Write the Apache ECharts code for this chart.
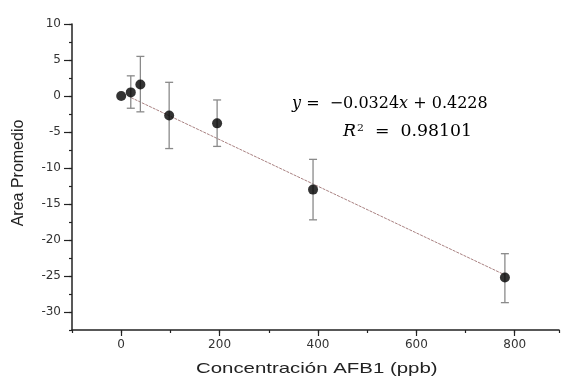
<!DOCTYPE html>
<html><head><meta charset="utf-8">
<script src="https://cdn.jsdelivr.net/npm/echarts@6/dist/echarts.min.js"></script>
<style>html,body{margin:0;padding:0;background:#fff}#c{width:563px;height:378px}</style>
</head><body><div id="c"></div>
<script>
const concentrations = [0, 19.5, 39, 97.5, 195, 390, 780];
const areaMeans = [0, 0.5, 1.6, -2.7, -3.8, -13.0, -25.2];
const errUpper = [0, 2.8, 5.5, 1.9, -0.55, -8.8, -21.9];
const errLower = [0, -1.7, -2.2, -7.3, -7.0, -17.2, -28.7];
const fitSlope = -0.0324, fitIntercept = 0.4228;
const fitX = [20, 780];
const fitY = fitX.map(x => fitSlope * x + fitIntercept);
const xMajorTicks = [0, 200, 400, 600, 800];
const yMajorTicks = [-30, -25, -20, -15, -10, -5, 0, 5, 10];
const xTitle = 'Concentración AFB1 (ppb)';
const yTitle = 'Area Promedio';

const chart = echarts.init(document.getElementById('c'));
const pts = concentrations.map((x, i) => [x, areaMeans[i]]);
const errs = concentrations.map((x, i) => [x, errLower[i], errUpper[i]]).filter(d => d[1] !== d[2]);
const axisCol = '#222';
const lblStyle = {fontFamily: 'DejaVu Sans', fontSize: 12, color: '#333'};
chart.setOption({
  animation: false,
  grid: {left: 72, right: 4, top: 24, bottom: 48},
  xAxis: [{
    type: 'value', min: -100, max: 890, interval: 100, position: 'bottom',
    axisLine: {onZero: false, lineStyle: {color: axisCol, width: 1.5}},
    axisTick: {length: 3, lineStyle: {color: axisCol, width: 1.2}},
    axisLabel: Object.assign({margin: 9, formatter: v => xMajorTicks.includes(v) ? String(v) : ''}, lblStyle),
    splitLine: {show: false}
  }, {
    type: 'value', min: -100, max: 890, position: 'bottom', offset: 0,
    axisLine: {show: false, onZero: false},
    axisTick: {length: 6, customValues: xMajorTicks, lineStyle: {color: axisCol, width: 1.2}},
    axisLabel: {show: false},
    splitLine: {show: false}
  }],
  yAxis: [{
    type: 'value', min: -32.5, max: 10, interval: 2.5, position: 'left',
    axisLine: {onZero: false, lineStyle: {color: axisCol, width: 1.5}},
    axisTick: {length: 3, lineStyle: {color: axisCol, width: 1.2}},
    axisLabel: Object.assign({margin: 11, formatter: v => yMajorTicks.includes(v) ? String(v) : ''}, lblStyle),
    splitLine: {show: false}
  }, {
    type: 'value', min: -32.5, max: 10, position: 'left', offset: 0,
    axisLine: {show: false, onZero: false},
    axisTick: {length: 8, customValues: yMajorTicks, lineStyle: {color: axisCol, width: 1.2}},
    axisLabel: {show: false},
    splitLine: {show: false}
  }],
  series: [
    {
      type: 'line', data: fitX.map((x, i) => [x, fitY[i]]), symbol: 'none',
      lineStyle: {color: '#a88080', width: 1, type: [3, 1]}, z: 1
    },
    {
      type: 'custom', z: 2,
      renderItem: function (params, api) {
        const x = api.value(0);
        const lo = api.coord([x, api.value(1)]);
        const hi = api.coord([x, api.value(2)]);
        const w = 4;
        const st = {stroke: '#8a8a8a', lineWidth: 1.3};
        return {type: 'group', children: [
          {type: 'line', shape: {x1: lo[0], y1: lo[1], x2: hi[0], y2: hi[1]}, style: st},
          {type: 'line', shape: {x1: lo[0]-w, y1: lo[1], x2: lo[0]+w, y2: lo[1]}, style: st},
          {type: 'line', shape: {x1: hi[0]-w, y1: hi[1], x2: hi[0]+w, y2: hi[1]}, style: st}
        ]};
      },
      data: errs
    },
    {
      type: 'scatter', data: pts, symbol: 'circle', symbolSize: 10,
      itemStyle: {color: '#000'}, z: 3
    }
  ],
  graphic: [
    {type: 'text', x: 196, y: 361, scaleX: 1.36, style: {text: xTitle, font: '15px "Liberation Sans"', fill: '#222'}},
    {type: 'text', x: 11, y: 173, rotation: Math.PI / 2, style: {text: yTitle, font: '16px "Liberation Sans"', fill: '#222', align: 'center', verticalAlign: 'top'}},
    {type: 'text', x: 292, y: 96, style: {
      text: '{i|y} =  −0.0324{i|x} + 0.4228',
      font: '16px "DejaVu Serif"', fill: '#000',
      rich: {i: {fontFamily: 'DejaVu Serif', fontStyle: 'italic', fontSize: 16, color: '#000'}}
    }},
    {type: 'text', x: 343, y: 123, scaleX: 1.08, style: {
      text: '{i|R}{s|2}  =  0.98101',
      font: '16px "DejaVu Serif"', fill: '#000',
      rich: {i: {fontFamily: 'DejaVu Serif', fontStyle: 'italic', fontSize: 16, color: '#000'},
             s: {fontFamily: 'DejaVu Serif', fontSize: 10, color: '#000', verticalAlign: 'top', padding: [0, 0, 8, 1]}}
    }}
  ]
});
</script></body></html>
